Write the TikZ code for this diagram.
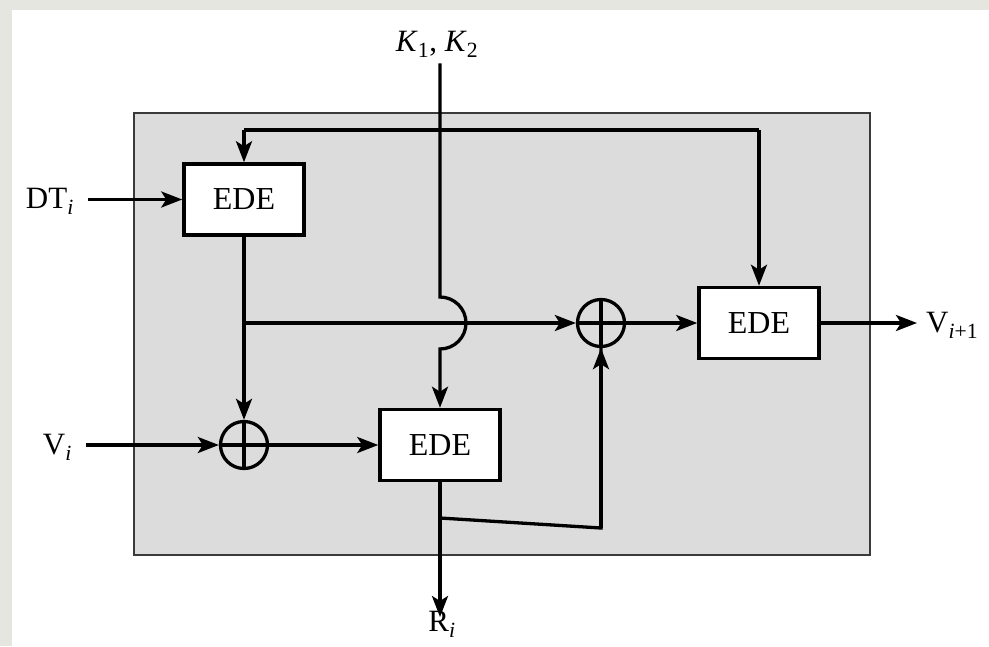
\documentclass[tikz,border=0pt]{standalone}
\usepackage{fontspec}
\setmainfont{Liberation Serif}
\usetikzlibrary{arrows.meta}
\definecolor{outerbg}{HTML}{E6E6E0}
\definecolor{boxgray}{HTML}{DCDCDC}
\definecolor{frameedge}{HTML}{3A3A3A}
\tikzset{
  wire/.style={line width=3.3pt, line join=miter},
  arr/.style={wire, -{Stealth[length=21pt, width=16pt, inset=5pt]}},
  edebox/.style={draw, line width=3.5pt, fill=white, minimum width=120pt, minimum height=71pt, inner sep=0pt, font=\fontsize{32}{38}\selectfont},
  xorgate/.style={circle, draw, line width=3.3pt, minimum size=47pt, inner sep=0pt,
    path picture={\draw[line width=3.3pt] (path picture bounding box.north) -- (path picture bounding box.south)
      (path picture bounding box.west) -- (path picture bounding box.east);}},
  lbl/.style={inner sep=0pt, font=\fontsize{31}{36}\selectfont},
}
\begin{document}
\begin{tikzpicture}[x=1pt, y=-1pt]
\useasboundingbox (0,0) rectangle (989,646);
\fill[outerbg] (0,0) rectangle (989,646);
\fill[white] (12,10) rectangle (989,646);
\filldraw[fill=boxgray, draw=frameedge, line width=2.8pt] (134,113) rectangle (870,555);

\node[edebox] (ede1) at (244,199.5) {EDE};
\node[edebox] (ede2) at (440,445) {EDE};
\node[edebox] (ede3) at (759,323) {EDE};
\node[xorgate] (xor1) at (244,445) {};
\node[xorgate] (xor2) at (601,323) {};

\node[lbl, anchor=east] (dt) at (74,201) {DT\textsubscript{\textit{i}}};
\node[lbl, anchor=east] (vi) at (72,447) {V\textsubscript{\textit{i}}};
\node[lbl, anchor=west] (vo) at (926,325) {V\textsubscript{\textit{i}+1}};
\node[lbl, anchor=north] (ri) at (442,611) {R\textsubscript{\textit{i}}};
\node[lbl] (kk) at (437,44) {\textit{K}\textsubscript{1}, \textit{K}\textsubscript{2}};

\coordinate (j) at (440,130);
\coordinate (hop) at (440,297);
\coordinate (tap) at (244,323);
\coordinate (b1) at (440,518);
\coordinate (b2) at (601,528);

% key line with hop
\draw[arr] (kk.south) ++(3,6) coordinate (kstart) -- (kstart |- hop) arc[start angle=90, end angle=-90, radius=26pt] -- (ede2.north);
\draw[wire] (ede1.north |- j) -- (ede3.north |- j);
\draw[arr] (ede1.north |- j) -- (ede1.north);
\draw[arr] (ede3.north |- j) -- (ede3.north);

% data path
\draw[arr, shorten <=14pt] (ede1.west -| dt.east) -- (ede1.west);
\draw[arr] (ede1.south) -- (xor1.north);
\draw[arr] (tap) -- (xor2.west);
\draw[arr, shorten <=14pt] (xor1.west -| vi.east) -- (xor1.west);
\draw[arr] (xor1.east) -- (ede2.west);
\draw[arr] (ede2.south) -- ([yshift=-6pt]ri.north -| ede2.south);
\draw[wire] (b1) -- (b2) -- ([yshift=10pt]xor2.south);
\draw[arr] (b2) -- (xor2.south);
\draw[arr] (xor2.east) -- (ede3.west);
\draw[arr, shorten >=9pt] (ede3.east) -- (ede3.east -| vo.west);
\end{tikzpicture}
\end{document}
